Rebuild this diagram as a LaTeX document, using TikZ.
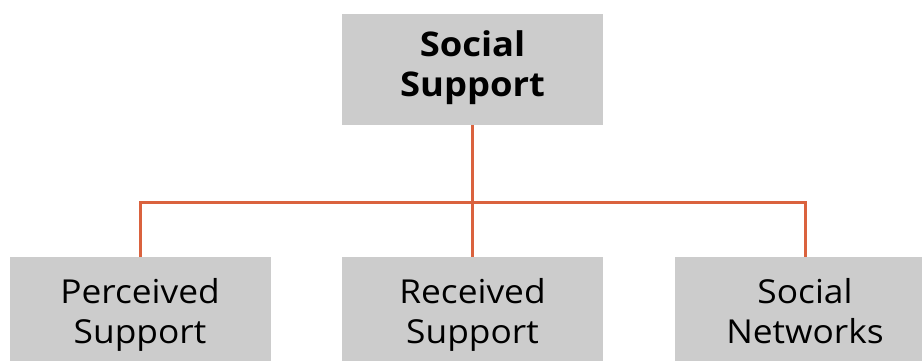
\documentclass[tikz,border=0pt]{standalone}
\usepackage{fontspec}
\setmainfont[FakeStretch=1.07]{Open Sans}
\begin{document}
\begin{tikzpicture}[x=1pt,y=-1pt,
  box/.style={draw=none, fill=boxgrey, inner sep=0pt, align=center,
              minimum width=261pt, text=black,
              execute at end node=\strut},
  toplabel/.style={font=\fontsize{34}{40}\selectfont\bfseries,
              execute at begin node={\rule{0pt}{32pt}}},
  sublabel/.style={font=\fontsize{33}{40}\selectfont,
              execute at begin node=\strut},
  link/.style={draw=linkorange, line width=3pt}]
\definecolor{boxgrey}{RGB}{204,204,204}
\definecolor{linkorange}{RGB}{218,98,62}
\useasboundingbox (0,0) rectangle (922,360);
\clip (0,0) rectangle (922,360);

% root of the tree
\node[box, toplabel, minimum height=111pt] (root) at (472.5,69.5) {Social\\Support};

% the three kinds of support
\node[box, sublabel, minimum height=119pt, anchor=north] (perceived) at (140,257) {Perceived\\Support};
\node[box, sublabel, minimum height=119pt, anchor=north] (received) at (472.5,257) {Received\\Support};
\node[box, sublabel, minimum height=119pt, anchor=north] (networks) at (805,257) {Social\\Networks};

% branching connectors
\coordinate (bar) at (472.5,202);
\draw[link] (root.south) -- (received.north);
\draw[link] (perceived.north) |- (bar) -| (networks.north);
\end{tikzpicture}
\end{document}
